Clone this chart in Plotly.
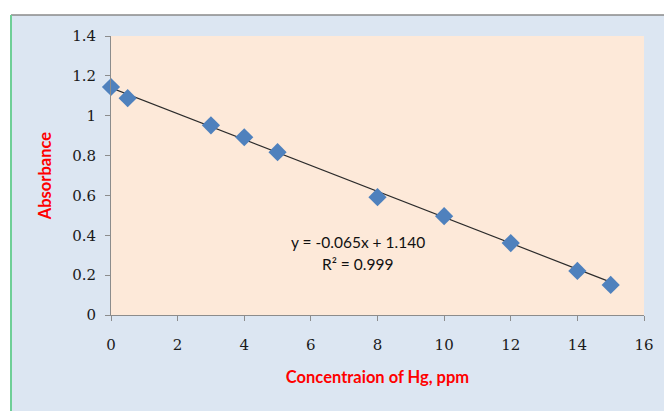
import plotly.graph_objects as go

# Data
conc_ppm = [0, 0.5, 3, 4, 5, 8, 10, 12, 14, 15]
absorbance = [1.144, 1.088, 0.952, 0.892, 0.817, 0.591, 0.496, 0.361, 0.221, 0.151]
fit_slope = -0.065
fit_intercept = 1.140
fit_x = [0, 15]
fit_y = [fit_intercept + fit_slope * x for x in fit_x]
x_ticks = [0, 2, 4, 6, 8, 10, 12, 14, 16]
y_ticks = [0, 0.2, 0.4, 0.6, 0.8, 1, 1.2, 1.4]
y_tick_text = ["0", "0.2", "0.4", "0.6", "0.8", "1", "1.2", "1.4"]

W, H = 664, 411
ML, MR, MT, MB = 111, 20, 36, 96
pw, ph = W - ML - MR, H - MT - MB

def px(xp):
    return (xp - ML) / pw

def py(yp):
    return (H - MB - yp) / ph

fig = go.Figure()
fig.add_trace(go.Scatter(x=fit_x, y=fit_y, mode="lines",
                         line=dict(color="#2b2b2b", width=1.2),
                         hoverinfo="skip", showlegend=False))
fig.add_trace(go.Scatter(x=conc_ppm, y=absorbance, mode="markers", cliponaxis=False,
                         marker=dict(symbol="diamond", size=14, color="#4F81BD",
                                     line=dict(width=0)),
                         showlegend=False))

tickfont = dict(family="DejaVu Serif, Liberation Serif, serif", size=15, color="#1a1a1a")
titlefont = dict(family="Lato, Open Sans, sans-serif", size=16.5, color="#FF0000")
fig.update_xaxes(range=[0, 16], tickmode="array", tickvals=x_ticks, automargin=False,
                 showgrid=False, zeroline=False, showline=True, linecolor="#8c8c8c",
                 linewidth=1, ticks="outside", ticklen=5, tickcolor="#8c8c8c",
                 tickfont=tickfont, ticklabelstandoff=11,
                 title=dict(text="<b>Concentraion of Hg, ppm</b>", font=titlefont,
                            standoff=18))
fig.update_yaxes(range=[0, 1.4], tickmode="array", tickvals=y_ticks, ticktext=y_tick_text,
                 automargin=False,
                 showgrid=False, zeroline=False, showline=True, linecolor="#8c8c8c",
                 linewidth=1, ticks="outside", ticklen=5, tickcolor="#8c8c8c",
                 tickfont=tickfont, ticklabelstandoff=6,
                 title=dict(text="<b>Absorbance</b>", font=titlefont,
                            standoff=16))

eqfont = dict(family="Lato, Open Sans, sans-serif", size=15.5, color="#111111")
fig.add_annotation(x=7.4, y=0.366, xref="x", yref="y", text="y = -0.065x + 1.140",
                   showarrow=False, font=eqfont)
fig.add_annotation(x=7.4, y=0.256, xref="x", yref="y", text="R² = 0.999",
                   showarrow=False, font=eqfont)

# white strips outside the chart frame and frame borders
fig.add_shape(type="rect", xref="paper", yref="paper", x0=px(-5), x1=px(11), y0=py(H + 5), y1=py(-5),
              fillcolor="white", line=dict(width=0), layer="below")
fig.add_shape(type="rect", xref="paper", yref="paper", x0=px(-5), x1=px(W + 5), y0=py(15), y1=py(-5),
              fillcolor="white", line=dict(width=0), layer="below")
fig.add_shape(type="line", xref="paper", yref="paper", x0=px(11), x1=px(W + 5), y0=py(15), y1=py(15),
              line=dict(color="#8a8a8a", width=1.5))
fig.add_shape(type="line", xref="paper", yref="paper", x0=px(11), x1=px(11), y0=py(15), y1=py(H + 5),
              line=dict(color="#6fcf97", width=2))

fig.update_layout(width=W, height=H, margin=dict(l=ML, r=MR, t=MT, b=MB),
                  paper_bgcolor="#DCE6F2", plot_bgcolor="#FDE9D9",
                  showlegend=False)
fig.write_html("out.html")
